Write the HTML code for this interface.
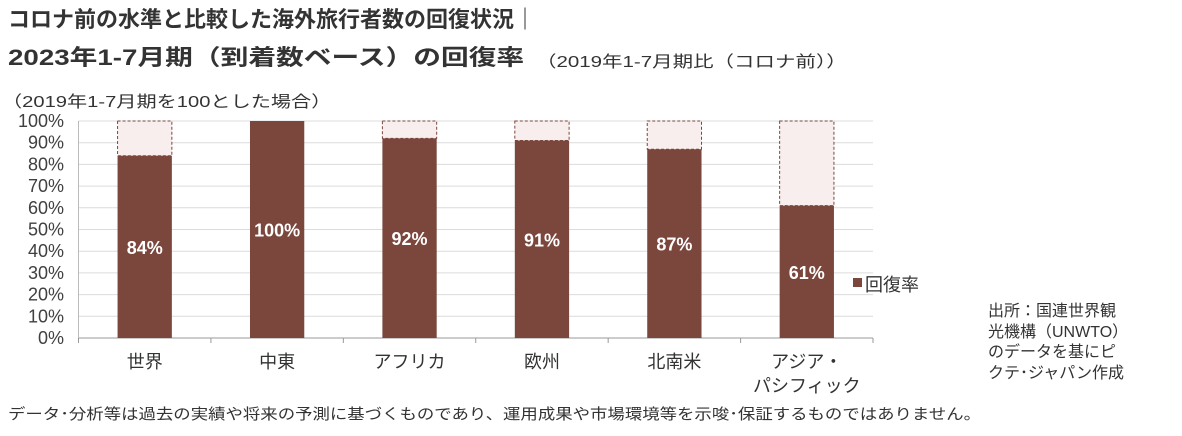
<!DOCTYPE html>
<html><head><meta charset="utf-8"><style>
body{margin:0;background:#fff;width:1182px;height:436px;overflow:hidden;font-family:"Liberation Sans","Noto Sans CJK JP",sans-serif;color:#333}
.t{position:absolute;white-space:nowrap;transform-origin:0 0}
</style></head><body>
<div class="t" style="left:8px;top:2px;font-size:22px;font-weight:bold;color:#333">コロナ前の水準と比較した海外旅行者数の回復状況｜</div>
<div class="t" style="left:8px;top:40px;font-size:22px;font-weight:bold;color:#333;transform:scaleX(1.26)">2023年1-7月期（到着数ベース）の回復率</div>
<div class="t" style="left:536px;top:48px;font-size:16px;color:#333;transform:scaleX(1.28)">（2019年1-7月期比（コロナ前））</div>
<div class="t" style="left:2px;top:88px;font-size:16px;color:#333;transform:scaleX(1.26)">（2019年1-7月期を100とした場合）</div>
<svg id="chart" width="1182" height="436" style="position:absolute;left:0;top:0"></svg>
<div class="t" style="left:988px;top:302px;font-size:16px;line-height:20.5px;color:#333">出所：国連世界観<br>光機構（UNWTO）<br>のデータを基にピ<br>クテ･ジャパン作成</div>
<div class="t" style="left:8px;top:403px;font-size:15px;color:#333;transform:scaleX(1.16)">データ･分析等は過去の実績や将来の予測に基づくものであり、運用成果や市場環境等を示唆･保証するものではありません。</div>
<script>
const categories=[["世界"],["中東"],["アフリカ"],["欧州"],["北南米"],["アジア・","パシフィック"]];
const values=[84,100,92,91,87,61];
const labels=["84%","100%","92%","91%","87%","61%"];
const yTicks=[0,10,20,30,40,50,60,70,80,90,100];
const NS="http://www.w3.org/2000/svg";
const svg=document.getElementById('chart');
const x0=78.5,x1=873,y0=338,y1=121;
const bw=(x1-x0)/categories.length;
const ys=v=>y0-(v/100)*(y0-y1);
function mk(tag,a){const e=document.createElementNS(NS,tag);for(const k in a)e.setAttribute(k,a[k]);svg.appendChild(e);return e;}
yTicks.forEach(t=>{
 const y=ys(t);
 const g=mk('line',{x1:x0,x2:x1,y1:y,y2:y,stroke:t===0?'#999':'#dcdcdc','stroke-width':1});
 
 
 const tl=mk('text',{x:64,y:y+6,'text-anchor':'end','font-size':18,fill:'#404040'});
 tl.textContent=t+'%';
 
 
});
mk('line',{x1:x0,x2:x0,y1:y1,y2:y0+4,stroke:'#bbb'});
for(let i=0;i<=categories.length;i++){const x=x0+i*bw;mk('line',{x1:x,x2:x,y1:y0,y2:y0+5,stroke:'#999'});}
categories.forEach((c,i)=>{
 const cx=x0+(i+0.5)*bw,w=bw*0.41,v=values[i];
 const rem=mk('rect',{x:cx-w/2,y:ys(100),width:w,height:ys(v)-ys(100),fill:'#f7eeed',stroke:'#7b463c','stroke-dasharray':'3,2','stroke-width':1});
 
 
 const b=mk('rect',{x:cx-w/2,y:ys(v),width:w,height:y0-ys(v),fill:'#7b463c'});
 
 
 const l=mk('text',{x:cx,y:(ys(v)+y0)/2+7,'text-anchor':'middle','font-size':18,'font-weight':'bold',fill:'#fff'});
 l.textContent=labels[i];
 
 
 c.forEach((s,j)=>{
  const t=mk('text',{x:cx,y:368+j*24,'text-anchor':'middle','font-size':18,fill:'#333'});
  t.textContent=s;
  
  
 });
});
const ls=mk('rect',{x:853,y:278,width:9,height:9,fill:'#7b463c'});


const lt=mk('text',{x:865,y:291,'font-size':18,fill:'#333'});
lt.textContent='回復率';


</script>
</body></html>
